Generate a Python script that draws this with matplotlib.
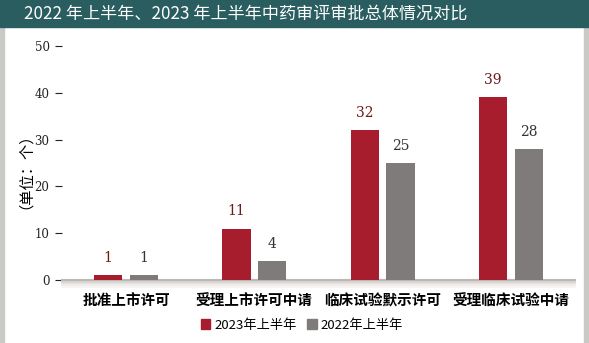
import matplotlib
matplotlib.use('Agg')
import matplotlib.pyplot as plt
import matplotlib.patches as mpatches
import numpy as np

# data
categories = ['批准上市许可', '受理上市许可中请', '临床试验默示许可', '受理临床试验中请']
series_names = ['2023年上半年', '2022年上半年']
values_2023 = [1, 11, 32, 39]
values_2022 = [1, 4, 25, 28]
yticks = [0, 10, 20, 30, 40, 50]

RED = '#a71d2e'
GRAY = '#7f7b7a'
TEAL = '#295d5f'

plt.rcParams['font.family'] = ['Noto Sans CJK SC', 'DejaVu Sans']

fig = plt.figure(figsize=(5.89, 3.43), dpi=100)
fig.patch.set_facecolor('white')

# side borders
fig.patches.append(mpatches.Rectangle((0, 0), 4 / 589, 1, transform=fig.transFigure,
                                      color='#c9c9c6', zorder=0))
fig.patches.append(mpatches.Rectangle((1 - 5 / 589, 0), 5 / 589, 1, transform=fig.transFigure,
                                      color='#c9c9c6', zorder=0))

# title banner
fig.patches.append(mpatches.Rectangle((0, 1 - 27 / 343), 1, 27 / 343, transform=fig.transFigure,
                                      color=TEAL, zorder=1))
fig.text(24 / 589, 1 - 14 / 343, '2022 年上半年、2023 年上半年中药审评审批总体情况对比',
         color='white', fontsize=12.3, va='center', ha='left', zorder=2)

ax = fig.add_axes([62 / 589, 1 - 280 / 343, 513 / 589, 234 / 343])

x = np.arange(len(categories))
w = 0.22
off = 0.14
b1 = ax.bar(x - off, values_2023, w, color=RED, zorder=3)
b2 = ax.bar(x + off, values_2022, w, color=GRAY, zorder=3)

for xi, v in zip(x, values_2023):
    ax.text(xi - off, v + 2.2, str(v), ha='center', va='bottom', fontsize=10,
            color='#6e1a1a', family='DejaVu Serif')
for xi, v in zip(x, values_2022):
    ax.text(xi + off, v + 2.2, str(v), ha='center', va='bottom', fontsize=10,
            color='#333333', family='DejaVu Serif')

ax.set_xlim(-0.5, 3.5)
ax.set_ylim(0, 50)
ax.set_yticks(yticks)
ax.set_yticklabels([str(t) for t in yticks], family='DejaVu Serif', fontsize=8.5)
ax.tick_params(axis='y', length=5, width=0.8, pad=4, colors='#222222')
ax.set_xticks(x)
ax.set_xticklabels(categories, fontsize=10.5, fontweight='bold')
ax.tick_params(axis='x', length=0, pad=9)

for s in ['top', 'right', 'left']:
    ax.spines[s].set_visible(False)
ax.spines['bottom'].set_color('#bdb8b4')
ax.spines['bottom'].set_linewidth(1.5)

# shadow below the baseline
for i, c in enumerate(['#cfcac6', '#dedad7', '#ebe8e6', '#f5f3f2']):
    ax.axhline(-0.35 - i * 0.35, color=c, lw=1.2, clip_on=False, zorder=1)

ax.set_ylabel('（单位：个）', fontsize=11, labelpad=6)

handles = [mpatches.Patch(color=RED, label=series_names[0]),
           mpatches.Patch(color=GRAY, label=series_names[1])]
fig.legend(handles=handles, loc='center', bbox_to_anchor=(302 / 589, 1 - 325 / 343),
           ncol=2, frameon=False, fontsize=9.5, handlelength=0.7, handleheight=0.7,
           handletextpad=0.3, columnspacing=0.8)

fig.savefig('out.png', dpi=100)
